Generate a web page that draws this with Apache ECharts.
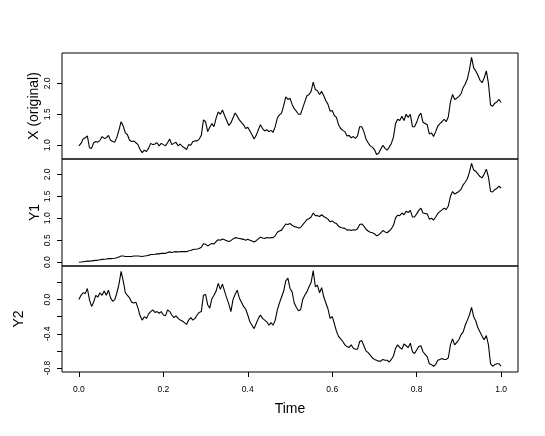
<!DOCTYPE html>
<html><head><meta charset="utf-8">
<script src="https://cdn.jsdelivr.net/npm/echarts@6/dist/echarts.min.js"></script>
<style>html,body{margin:0;padding:0;background:#fff}#c{width:545px;height:436px}</style>
</head><body><div id="c"></div>
<script>
const timeStep = 0.005;
const seriesX = [
0.99,1.03,1.10,1.12,1.15,0.96,0.95,1.04,1.06,1.05,
1.08,1.14,1.11,1.12,1.16,1.08,1.06,1.05,1.13,1.25,
1.38,1.31,1.20,1.17,1.08,1.06,1.07,1.04,1.01,0.93,
0.88,0.92,0.90,0.95,1.03,1.01,1.02,1.04,0.99,1.03,
1.01,0.99,1.04,1.10,1.01,1.03,1.05,0.99,1.02,0.98,
0.96,0.93,1.01,1.00,1.06,1.07,1.07,1.10,1.16,1.41,
1.38,1.22,1.29,1.35,1.30,1.44,1.54,1.50,1.57,1.48,
1.40,1.32,1.36,1.44,1.52,1.47,1.41,1.37,1.33,1.27,
1.29,1.23,1.17,1.10,1.16,1.25,1.33,1.27,1.23,1.25,
1.22,1.24,1.21,1.30,1.44,1.49,1.52,1.64,1.78,1.74,
1.76,1.66,1.59,1.55,1.50,1.50,1.60,1.70,1.80,1.82,
1.87,2.02,1.90,1.88,1.82,1.87,1.80,1.72,1.66,1.55,
1.56,1.48,1.45,1.33,1.27,1.24,1.22,1.15,1.16,1.12,
1.14,1.11,1.15,1.30,1.30,1.22,1.10,1.04,0.99,0.97,
0.93,0.85,0.87,0.94,1.00,0.95,0.92,0.97,1.03,1.13,
1.35,1.42,1.40,1.47,1.40,1.50,1.45,1.50,1.30,1.30,
1.37,1.47,1.52,1.37,1.35,1.33,1.18,1.20,1.14,1.22,
1.31,1.35,1.38,1.42,1.38,1.46,1.70,1.82,1.74,1.76,
1.79,1.83,1.93,1.99,2.07,2.22,2.42,2.25,2.20,2.13,
2.05,2.01,2.09,2.20,2.00,1.65,1.63,1.68,1.70,1.74,
1.69];
const seriesY1 = [
0,0.005,0.011,0.017,0.023,0.024,0.029,0.036,0.042,0.047,
0.054,0.063,0.067,0.073,0.081,0.081,0.085,0.089,0.10,0.12,
0.14,0.14,0.13,0.13,0.13,0.13,0.14,0.14,0.14,0.135,
0.13,0.14,0.145,0.155,0.175,0.175,0.18,0.19,0.19,0.20,
0.20,0.20,0.22,0.235,0.22,0.23,0.24,0.23,0.245,0.24,
0.24,0.24,0.26,0.265,0.29,0.295,0.30,0.31,0.34,0.42,
0.41,0.37,0.40,0.425,0.415,0.47,0.51,0.50,0.53,0.51,
0.49,0.47,0.49,0.53,0.56,0.55,0.54,0.53,0.52,0.50,
0.52,0.50,0.48,0.46,0.49,0.53,0.57,0.55,0.54,0.56,
0.55,0.56,0.56,0.60,0.68,0.71,0.73,0.80,0.87,0.86,
0.88,0.84,0.81,0.80,0.78,0.79,0.85,0.91,0.97,0.99,
1.03,1.12,1.06,1.06,1.04,1.08,1.04,1.01,0.98,0.92,
0.94,0.90,0.88,0.82,0.79,0.78,0.77,0.73,0.74,0.72,
0.74,0.73,0.76,0.86,0.87,0.82,0.75,0.71,0.68,0.67,
0.65,0.60,0.62,0.67,0.72,0.69,0.67,0.71,0.76,0.84,
1.01,1.07,1.06,1.12,1.08,1.16,1.13,1.18,1.03,1.03,
1.10,1.18,1.23,1.12,1.11,1.10,0.98,1.00,0.96,1.03,
1.11,1.15,1.19,1.23,1.20,1.28,1.50,1.61,1.55,1.58,
1.61,1.66,1.76,1.82,1.90,2.05,2.25,2.10,2.07,2.01,
1.95,1.92,2.01,2.12,1.94,1.61,1.60,1.65,1.68,1.73,
1.69];
const seriesY2 = [
0.00,0.05,0.08,0.07,0.13,0.00,-0.08,-0.03,0.05,0.03,
0.08,0.05,0.10,0.05,0.11,0.02,-0.02,0.00,0.08,0.18,
0.33,0.22,0.08,0.05,0.02,-0.03,-0.04,-0.03,-0.10,-0.19,
-0.24,-0.20,-0.22,-0.17,-0.14,-0.12,-0.15,-0.14,-0.16,-0.14,
-0.18,-0.19,-0.12,-0.14,-0.18,-0.21,-0.19,-0.22,-0.24,-0.25,
-0.27,-0.29,-0.24,-0.21,-0.24,-0.22,-0.18,-0.15,-0.14,0.05,
0.06,-0.06,-0.10,0.01,0.05,0.10,0.19,0.12,0.18,0.10,
0.02,-0.05,-0.14,0.00,0.06,0.11,0.02,-0.03,-0.08,-0.11,
-0.18,-0.26,-0.30,-0.34,-0.28,-0.22,-0.18,-0.22,-0.24,-0.26,
-0.30,-0.27,-0.30,-0.24,-0.12,-0.04,0.03,0.10,0.22,0.25,
0.13,0.09,-0.04,-0.09,-0.13,-0.12,0.00,0.05,0.09,0.15,
0.20,0.34,0.15,0.17,0.08,0.14,0.03,-0.04,-0.11,-0.22,
-0.20,-0.28,-0.37,-0.43,-0.46,-0.49,-0.53,-0.55,-0.56,-0.53,
-0.57,-0.58,-0.58,-0.49,-0.48,-0.54,-0.60,-0.62,-0.65,-0.68,
-0.70,-0.71,-0.72,-0.72,-0.70,-0.71,-0.71,-0.73,-0.70,-0.66,
-0.57,-0.53,-0.56,-0.58,-0.52,-0.54,-0.56,-0.51,-0.61,-0.63,
-0.59,-0.55,-0.54,-0.61,-0.64,-0.67,-0.75,-0.76,-0.78,-0.76,
-0.71,-0.70,-0.69,-0.70,-0.70,-0.68,-0.53,-0.46,-0.53,-0.50,
-0.47,-0.41,-0.38,-0.30,-0.24,-0.18,-0.09,-0.20,-0.25,-0.33,
-0.38,-0.43,-0.47,-0.42,-0.53,-0.75,-0.78,-0.76,-0.75,-0.75,
-0.78];
const timeTicks = [0, 0.2, 0.4, 0.6, 0.8, 1.0];
const xTicks = [1.0, 1.5, 2.0];
const y1Ticks = [0, 0.5, 1.0, 1.5, 2.0];
const y2Ticks = [-0.8, -0.6, -0.4, -0.2, 0, 0.2];
const y2Labels = [-0.8, -0.4, 0];
const panelNames = ['X (original)', 'Y1', 'Y2'];
const timeName = 'Time';

const times = seriesX.map((_, i) => Math.round(i * timeStep * 1000) / 1000);
const pair = arr => arr.map((v, i) => [times[i], v]);
const fmt = v => Number(v).toFixed(1);
const FONT = 'Liberation Sans, Arial, Helvetica, sans-serif';

const panels = [
  { top: 53, height: 106, min: 0.778, max: 2.49, ticks: xTicks, labels: xTicks, gap: 21, data: seriesX },
  { top: 159, height: 107, min: -0.087, max: 2.35, ticks: y1Ticks, labels: y1Ticks, gap: 20, data: seriesY1 },
  { top: 266, height: 106, min: -0.847, max: 0.393, ticks: y2Ticks, labels: y2Labels, gap: 36, data: seriesY2 }
];

const chart = echarts.init(document.getElementById('c'), null, { renderer: 'canvas' });
chart.setOption({
  animation: false,
  backgroundColor: '#fff',
  textStyle: { fontFamily: FONT, color: '#000' },
  grid: panels.map(p => ({
    left: 62, right: 27, top: p.top, height: p.height,
    show: true, borderColor: '#000', borderWidth: 1, backgroundColor: 'transparent'
  })),
  xAxis: panels.map((p, k) => ({
    gridIndex: k, type: 'value', min: -0.04, max: 1.04,
    show: k === 2, position: 'bottom',
    axisLine: { show: false, onZero: false },
    splitLine: { show: false },
    axisTick: { show: true, inside: false, customValues: timeTicks, length: 5, lineStyle: { color: '#000', width: 1 } },
    axisLabel: { show: true, customValues: timeTicks, formatter: fmt, fontSize: 8.5, color: '#000', margin: 13, fontFamily: FONT },
    name: k === 2 ? timeName : '',
    nameLocation: 'middle', nameGap: 30, nameMoveOverlap: false,
    nameTextStyle: { fontSize: 14, color: '#000', fontFamily: FONT }
  })),
  yAxis: panels.map((p, k) => ({
    gridIndex: k, type: 'value', min: p.min, max: p.max, position: 'left',
    axisLine: { show: false, onZero: false },
    splitLine: { show: false },
    axisTick: { show: true, inside: false, customValues: p.ticks, length: 5, lineStyle: { color: '#000', width: 1 } },
    axisLabel: { show: true, customValues: p.labels, formatter: fmt, rotate: 90, fontSize: 8.5, color: '#000', margin: 10, fontFamily: FONT },
    name: panelNames[k],
    nameLocation: 'middle', nameRotate: 90, nameGap: p.gap, nameMoveOverlap: false,
    nameTextStyle: { fontSize: 14, color: '#000', fontFamily: FONT }
  })),
  series: panels.map((p, k) => ({
    type: 'line', xAxisIndex: k, yAxisIndex: k,
    data: pair(p.data), showSymbol: false, symbol: 'none',
    lineStyle: { color: '#000', width: 1.1 }, silent: true
  }))
});
</script>
</body></html>
